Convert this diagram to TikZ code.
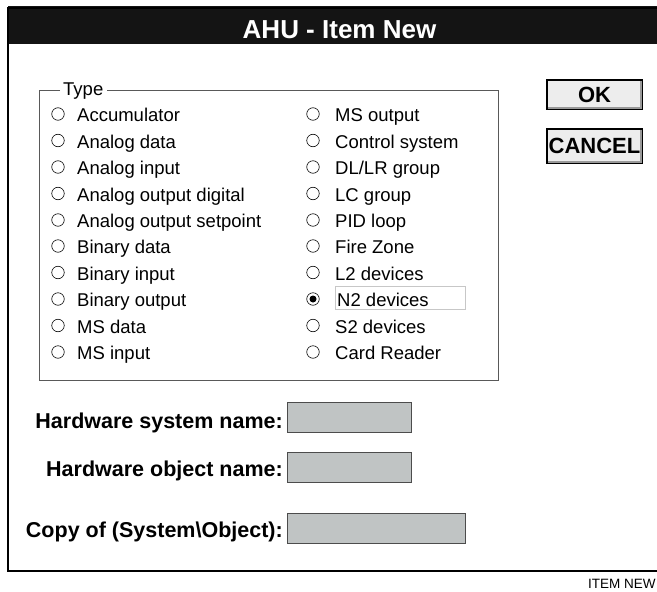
\documentclass[tikz,border=0pt]{standalone}
\usepackage{fontspec}
\setmainfont{Liberation Sans}
\usepackage{xcolor}
\usepackage{tikz}
\usetikzlibrary{positioning}

\definecolor{fieldgray}{RGB}{192,196,196}
\definecolor{barblack}{RGB}{20,20,20}

\begin{document}
\begin{tikzpicture}
                [x=1pt,y=-1pt,
                 radio/.style = {draw,circle,inner sep=0pt,minimum size=12.5pt,line width=0.6pt},
                 item/.style = {anchor=base west,inner sep=0pt,font=\fontsize{18.5}{20}\selectfont},
                 field/.style = {draw=black!70,fill=fieldgray,minimum height=30pt,inner sep=0pt,anchor=west},
                 caption/.style = {anchor=base east,inner sep=0pt,font=\fontsize{21.5}{24}\selectfont\bfseries},
                 button/.style = {draw,line width=1.2pt,fill=black!7,minimum width=95pt,inner sep=0pt,font=\fontsize{22}{24}\selectfont\bfseries}]

                \useasboundingbox (0,0) rectangle (657,592);

                % window and title bar
                \fill[barblack] (8,6) rectangle (680,44);
                \draw[line width=2.2pt] (680,8) -- (8,8) -- (8,571) -- (680,571);
                \node[anchor=base,inner sep=0pt,text=white,font=\fontsize{26}{28}\selectfont\bfseries] (title) at (339.5,38) {AHU - Item New};

                % type group
                \draw[black!65,line width=0.8pt] (60,90) -- (39,90) -- (39,380) -- (498,380) -- (498,90) -- (107,90);
                \node[item] (type) at (63,95) {Type};

                \node[radio] (r1) at (58,114) {};   \node[item] (accum) at (77,121.5) {Accumulator};
                \node[radio] (r2) at (58,140.5) {}; \node[item] (adata) at (77,148) {Analog data};
                \node[radio] (r3) at (58,167) {};   \node[item] (ainput) at (77,174.5) {Analog input};
                \node[radio] (r4) at (58,193.5) {}; \node[item] (aodig) at (77,201) {Analog output digital};
                \node[radio] (r5) at (58,220) {};   \node[item] (aoset) at (77,227.5) {Analog output setpoint};
                \node[radio] (r6) at (58,246) {};   \node[item] (bdata) at (77,253.5) {Binary data};
                \node[radio] (r7) at (58,272.5) {}; \node[item] (binput) at (77,280) {Binary input};
                \node[radio] (r8) at (58,299) {};   \node[item] (boutput) at (77,306.5) {Binary output};
                \node[radio] (r9) at (58,325.5) {}; \node[item] (msdata) at (77,333) {MS data};
                \node[radio] (r10) at (58,352) {};  \node[item] (msinput) at (77,359.5) {MS input};

                \node[radio] (s1) at (313,114) {};   \node[item] (msout) at (335,121.5) {MS output};
                \node[radio] (s2) at (313,140.5) {}; \node[item] (ctrl) at (335,148) {Control system};
                \node[radio] (s3) at (313,167) {};   \node[item] (dllr) at (335,174.5) {DL/LR group};
                \node[radio] (s4) at (313,193.5) {}; \node[item] (lcgrp) at (335,201) {LC group};
                \node[radio] (s5) at (313,220) {};   \node[item] (pid) at (335,227.5) {PID loop};
                \node[radio] (s6) at (313,246) {};   \node[item] (fire) at (335,253.5) {Fire Zone};
                \node[radio] (s7) at (313,272.5) {}; \node[item] (ltwo) at (335,280) {L2 devices};
                \node[radio] (s8) at (313,299) {};   \node[item] (ntwo) at (337,306.5) {N2 devices};
                \node[radio] (s9) at (313,325.5) {}; \node[item] (stwo) at (335,333) {S2 devices};
                \node[radio] (s10) at (313,352) {};  \node[item] (card) at (335,359.5) {Card Reader};

                \fill (s8) circle (3.5pt);
                \draw[black!22,line width=0.8pt] (335,286) rectangle (465,309);

                % buttons
                \node[button,minimum height=29pt] (ok) at (594.5,94.5) {OK};
                \node[button,minimum height=34pt] (cancel) at (594.5,146) {CANCEL};
                \draw[black!40,line width=1.6pt] ([xshift=2pt,yshift=1.6pt]ok.south west) -- ([xshift=-1.6pt,yshift=1.6pt]ok.south east) -- ([xshift=-1.6pt,yshift=-2pt]ok.north east);
                \draw[black!40,line width=1.6pt] ([xshift=2pt,yshift=1.6pt]cancel.south west) -- ([xshift=-1.6pt,yshift=1.6pt]cancel.south east) -- ([xshift=-1.6pt,yshift=-2pt]cancel.north east);

                % name fields
                \node[field,minimum width=124pt] (sysbox) at (287,417.5) {};
                \node[field,minimum width=124pt] (objbox) at (287,467) {};
                \node[field,minimum width=178pt] (copybox) at (287,528) {};
                \node[caption] (sysname) at (283,428) {Hardware system name:};
                \node[caption] (objname) at (283,476) {Hardware object name:};
                \node[caption] (copyname) at (283,537) {Copy of (System\textbackslash Object):};

                \node[anchor=base west,inner sep=0pt,font=\fontsize{13.5}{15}\selectfont] (tag) at (588,588) {ITEM NEW};

            \end{tikzpicture}
\end{document}
